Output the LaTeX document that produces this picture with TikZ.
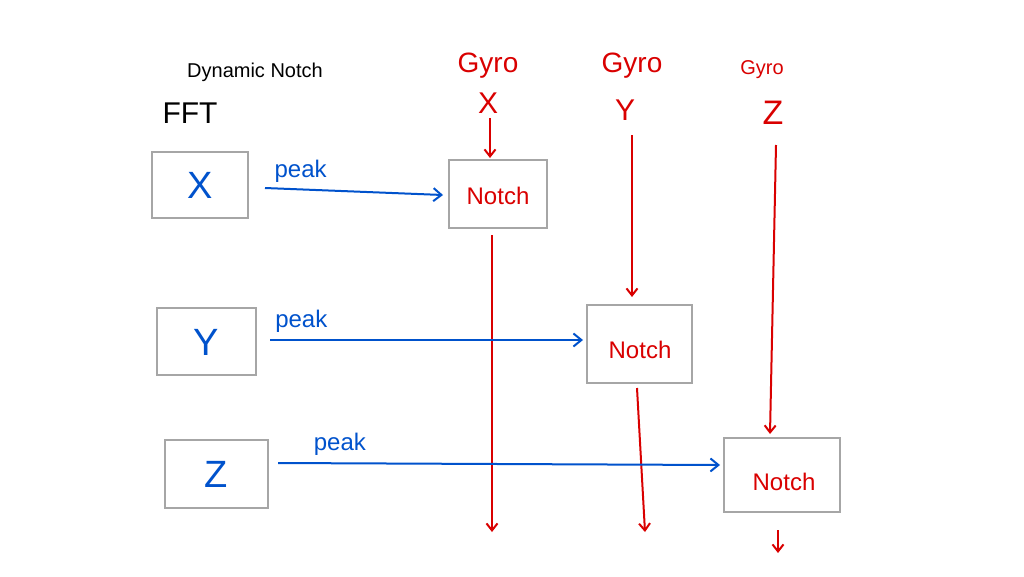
\documentclass[tikz,border=0pt]{standalone}
\usepackage{fontspec}
\usetikzlibrary{arrows.meta}
\setmainfont{Liberation Sans}
\begin{document}
\begin{tikzpicture}[x=1pt,y=-1pt,
  fbox/.style={draw=gray!70,line width=2pt},
  rline/.style={draw=red!85!black,line width=2pt,-{Straight Barb[length=7pt,width=11pt]}},
  bline/.style={draw=blue!60!cyan!80!black,line width=2pt,-{Straight Barb[length=8pt,width=13pt]}},
  rt/.style={text=red!85!black,font=\fontsize{24}{26}\selectfont},
  bt/.style={text=blue!60!cyan!80!black}]
\useasboundingbox (0,0) rectangle (1024,576);
\node (dn) at (255,72) {\fontsize{20}{22}\selectfont Dynamic Notch};
\node (fft) at (190,113) {\fontsize{30}{32}\selectfont FFT};
% FFT boxes
\draw[fbox] (152,152) rectangle (248,218);
\node[bt,font=\fontsize{38}{40}\selectfont] (bx) at (200,185) {X};
\draw[fbox] (157,308) rectangle (256,375);
\node[bt,font=\fontsize{38}{40}\selectfont] (by) at (206,342) {Y};
\draw[fbox] (165,440) rectangle (268,508);
\node[bt,font=\fontsize{38}{40}\selectfont] (bz) at (216,474) {Z};
% Notch boxes
\draw[fbox] (449,160) rectangle (547,228);
\node[rt] (n1) at (498,196) {Notch};
\draw[fbox] (587,305) rectangle (692,383);
\node[rt] (n2) at (640,350) {Notch};
\draw[fbox] (724,438) rectangle (840,512);
\node[rt] (n3) at (784,482) {Notch};
% gyro labels
\node[rt,font=\fontsize{28}{30}\selectfont] (g1) at (488,66) {Gyro};
\node[rt,font=\fontsize{30}{32}\selectfont] (g1x) at (488,103) {X};
\node[rt,font=\fontsize{28}{30}\selectfont] (g2) at (632,66) {Gyro};
\node[rt,font=\fontsize{30}{32}\selectfont] (g2y) at (625,110) {Y};
\node[rt,font=\fontsize{20}{22}\selectfont] (g3) at (762,70) {Gyro};
\node[rt,font=\fontsize{34}{36}\selectfont] (g3z) at (773,113) {Z};
% red arrows
\coordinate (e1) at (492,532);
\coordinate (e2) at (645,532);
\coordinate (e3) at (778,553);
\draw[rline] (490,118) -- (490,158);
\draw[rline] (492,235) -- (e1);
\draw[rline] (632,135) -- (632,297);
\draw[rline] (637,388) -- (e2);
\draw[rline] (776,145) -- (770,434);
\draw[rline] (778,530) -- (e3);
% blue arrows
\draw[bline] (265,188) -- node[bt,above=3pt,pos=0.2,font=\fontsize{24}{26}\selectfont]{peak} (443,195);
\draw[bline] (270,340) -- node[bt,above=3pt,pos=0.1,font=\fontsize{24}{26}\selectfont]{peak} (583,340);
\draw[bline] (278,463) -- node[bt,above=3pt,pos=0.14,font=\fontsize{24}{26}\selectfont]{peak} (720,465);
\end{tikzpicture}
\end{document}
